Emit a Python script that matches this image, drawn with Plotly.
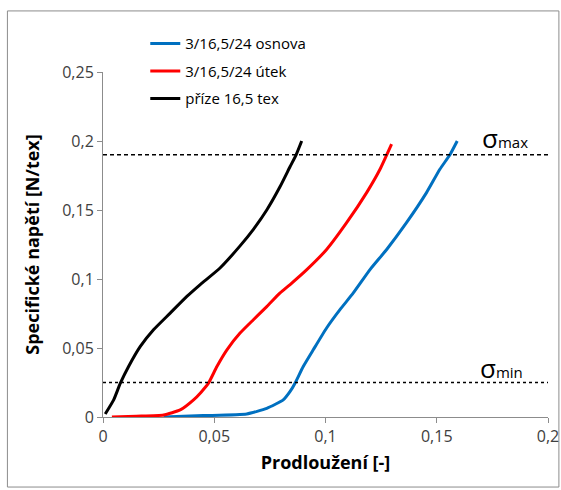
import plotly.graph_objects as go

# --- data ---
osnova_x = [0.0272, 0.045, 0.0646, 0.0736, 0.0810, 0.0841, 0.0863, 0.0900, 0.0945, 0.1005, 0.1065, 0.1125, 0.1200,
            0.1275, 0.1364, 0.1454, 0.1514, 0.1559, 0.1592]
osnova_y = [0.000, 0.001, 0.0022, 0.0063, 0.0124, 0.0185, 0.0245, 0.0366, 0.0487, 0.0645, 0.0778, 0.0899, 0.1068,
            0.1214, 0.1408, 0.1626, 0.1795, 0.190, 0.200]

utek_x = [0.004, 0.015, 0.0272, 0.0347, 0.0407, 0.0440, 0.0474, 0.0512, 0.0557, 0.0616, 0.0676, 0.0736, 0.0796,
          0.0841, 0.0916, 0.1005, 0.1095, 0.1185, 0.1245, 0.1297]
utek_y = [0.000, 0.0006, 0.0015, 0.0051, 0.0124, 0.0178, 0.0245, 0.0366, 0.0487, 0.0608, 0.0705, 0.0800, 0.0899,
          0.0960, 0.1068, 0.1214, 0.1408, 0.1626, 0.1795, 0.1977]

prize_x = [0.0010, 0.0048, 0.0078, 0.0115, 0.0167, 0.0227, 0.0302, 0.0377, 0.0437, 0.0526, 0.0616, 0.0676, 0.0736,
           0.0796, 0.0841, 0.0868, 0.0893]
prize_y = [0.0022, 0.0124, 0.0245, 0.0366, 0.0510, 0.0632, 0.0753, 0.0874, 0.0960, 0.1080, 0.1240, 0.1360, 0.1500,
           0.1670, 0.1815, 0.1900, 0.2000]

series_names = ["3/16,5/24 osnova", "3/16,5/24 útek", "příze 16,5 tex"]
series_colors = ["#0070C0", "#FF0000", "#000000"]

sigma_max = 0.19
sigma_min = 0.025
x_range = [0, 0.2]
y_range = [0, 0.25]
x_ticks = [0, 0.05, 0.1, 0.15, 0.2]
y_ticks = [0, 0.05, 0.1, 0.15, 0.2, 0.25]

font_family = "Open Sans, Noto Sans, sans-serif"

fig = go.Figure()
for i, (xs, ys) in enumerate([(osnova_x, osnova_y), (utek_x, utek_y), (prize_x, prize_y)]):
    fig.add_trace(go.Scatter(x=xs, y=ys, mode="lines", name=series_names[i],
                             line=dict(color=series_colors[i], width=3, shape="spline", smoothing=0.5),
                             legendgroup=f"g{i}"))

fig.add_trace(go.Scatter(x=x_range, y=[sigma_max, sigma_max], mode="lines", showlegend=False,
                         line=dict(color="black", width=1.5, dash="4px,3px")))
fig.add_trace(go.Scatter(x=x_range, y=[sigma_min, sigma_min], mode="lines", showlegend=False,
                         line=dict(color="black", width=1.5, dash="dot")))

fig.add_annotation(x=0.1918, y=sigma_max, xref="x", yref="y", yshift=17, xanchor="right", yanchor="middle",
                   text="<span style='font-size:26px'>σ</span><span style='font-size:15px'>max</span>",
                   showarrow=False, font=dict(family=font_family, color="black"))
fig.add_annotation(x=0.1897, y=sigma_min, xref="x", yref="y", yshift=15, xanchor="right", yanchor="middle",
                   text="<span style='font-size:26px'>σ</span><span style='font-size:15px'>min</span>",
                   showarrow=False, font=dict(family=font_family, color="black"))

# outer chart border
fig.add_shape(type="rect", xref="paper", yref="paper", x0=-0.2148, x1=1.0245, y0=-0.203, y1=1.177,
              line=dict(color="#8C8C8C", width=1), fillcolor="rgba(0,0,0,0)", layer="below")

axis_common = dict(showgrid=False, zeroline=False, showline=True, linecolor="#8C8C8C", linewidth=1,
                   ticks="outside", ticklen=5, tickcolor="#8C8C8C",
                   tickfont=dict(family=font_family, size=16, color="#404040"))

fig.update_layout(
    width=561, height=490,
    margin=dict(l=103, r=13, t=72, b=73),
    paper_bgcolor="white", plot_bgcolor="white",
    separators=", ",
    font=dict(family=font_family, color="black"),
    showlegend=True,
    legend=dict(x=0.095, y=1.13, xanchor="left", yanchor="top", bgcolor="rgba(0,0,0,0)",
                font=dict(family=font_family, size=15, color="black"), tracegroupgap=5, itemwidth=30),
    xaxis=dict(range=x_range, tickvals=x_ticks, automargin=False,
               title=dict(text="<b>Prodloužení [-]</b>",
                          font=dict(family=font_family, size=18, color="black"), standoff=10), **axis_common),
    yaxis=dict(range=y_range, tickvals=y_ticks, automargin=False,
               title=dict(text="<b>Specifické napětí [N/tex]</b>",
                          font=dict(family=font_family, size=18, color="black"), standoff=17), **axis_common),
)

fig.write_html("out.html", config={"displayModeBar": False},
               post_script="document.body.style.margin='0';")
